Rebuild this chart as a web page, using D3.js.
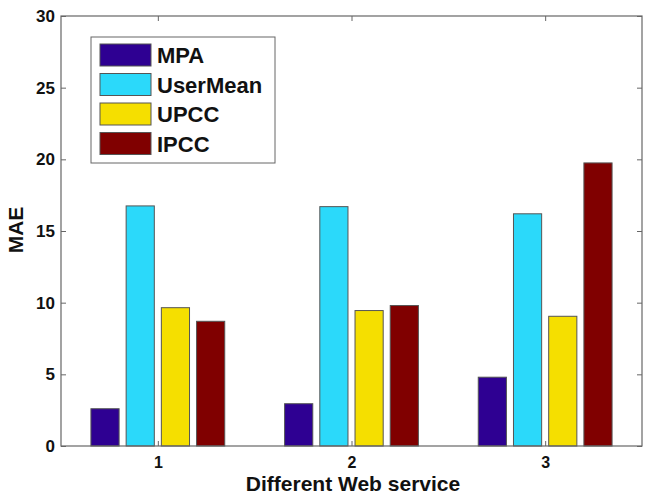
<!DOCTYPE html>
<html>
<head>
<meta charset="utf-8">
<script src="https://cdn.jsdelivr.net/npm/d3@7"></script>
<style>
  body { margin: 0; background: #fff; }
  svg { font-family: Arial, "Liberation Sans", sans-serif; font-weight: bold; }
</style>
</head>
<body>
<div id="chart"></div>
<script>
// data
const services = [1, 2, 3];
const methods = ["MPA", "UserMean", "UPCC", "IPCC"];
const colors = ["#2e0092", "#2bd9fa", "#f5df00", "#800000"];
const mpa = [2.6, 2.95, 4.8];
const userMean = [16.75, 16.7, 16.2];
const upcc = [9.65, 9.45, 9.05];
const ipcc = [8.7, 9.8, 19.75];
const yTicks = [0, 5, 10, 15, 20, 25, 30];

const series = [mpa, userMean, upcc, ipcc];

const width = 645, height = 496;
const margin = { top: 16, right: 3, bottom: 50, left: 61 };
const w = width - margin.left - margin.right;
const h = height - margin.top - margin.bottom;

const svg = d3.select("#chart")
    .append("svg")
    .attr("width", width)
    .attr("height", height);

const g = svg.append("g")
    .attr("transform", `translate(${margin.left},${margin.top})`);

const x = d3.scaleLinear().domain([0.5, 3.5]).range([0, w]);
const y = d3.scaleLinear().domain([0, 30]).range([h, 0]);

// matlab grouped bar layout
const groupWidth = Math.min(0.8, methods.length / (methods.length + 1.5));
const slot = groupWidth / methods.length;
const barW = slot * 0.8;

const axisColor = "#666";

// bars
methods.forEach((m, i) => {
    g.selectAll(".bar-" + i)
        .data(series[i])
        .enter().append("rect")
        .attr("class", "bar-" + i)
        .attr("x", (d, j) => x(services[j] - groupWidth / 2 + slot * i + (slot - barW) / 2))
        .attr("y", d => y(d))
        .attr("width", x(barW) - x(0))
        .attr("height", d => y(0) - y(d))
        .attr("fill", colors[i])
        .attr("stroke", "#555")
        .attr("stroke-width", 1);
});

// axes, ticks pointing inwards on all sides
const tickLen = 5;
g.append("g")
    .attr("class", "x-axis")
    .attr("transform", `translate(0,${h})`)
    .call(d3.axisBottom(x).tickValues(services).tickSize(-tickLen).tickPadding(11).tickFormat(d3.format("d")))
    .call(a => a.select(".domain").remove());
g.append("g")
    .call(d3.axisTop(x).tickValues(services).tickSize(-tickLen).tickFormat(""))
    .call(a => a.select(".domain").remove());
g.append("g")
    .call(d3.axisLeft(y).tickValues(yTicks).tickSize(-tickLen).tickPadding(6))
    .call(a => a.select(".domain").remove());
g.append("g")
    .attr("transform", `translate(${w},0)`)
    .call(d3.axisRight(y).tickValues(yTicks).tickSize(-tickLen).tickFormat(""))
    .call(a => a.select(".domain").remove());

g.selectAll(".tick line").attr("stroke", axisColor);
g.selectAll(".tick text")
    .attr("font-size", 17)
    .attr("font-weight", "bold")
    .attr("font-family", "Arial, 'Liberation Sans', sans-serif")
    .attr("fill", "#111");
g.selectAll(".x-axis .tick text").attr("font-size", 16);

g.append("rect")
    .attr("width", w)
    .attr("height", h)
    .attr("fill", "none")
    .attr("stroke", axisColor)
    .attr("stroke-width", 1.2);

// axis titles
svg.append("text")
    .attr("x", 353)
    .attr("y", 491)
    .attr("text-anchor", "middle")
    .attr("font-size", 21)
    .attr("fill", "#111")
    .text("Different Web service");

svg.append("text")
    .attr("transform", `translate(23,230) rotate(-90)`)
    .attr("text-anchor", "middle")
    .attr("font-size", 21)
    .attr("fill", "#111")
    .text("MAE");

// legend
const legend = svg.append("g").attr("transform", "translate(91,37)");
legend.append("rect")
    .attr("width", 184)
    .attr("height", 126)
    .attr("fill", "#fff")
    .attr("stroke", axisColor)
    .attr("stroke-width", 1);

methods.forEach((m, i) => {
    const row = legend.append("g").attr("transform", `translate(0,${7 + i * 29.5})`);
    row.append("rect")
        .attr("x", 9)
        .attr("width", 51)
        .attr("height", 22)
        .attr("fill", colors[i])
        .attr("stroke", "#555");
    row.append("text")
        .attr("x", 66)
        .attr("y", 19)
        .attr("font-size", 22)
        .attr("fill", "#111")
        .text(m);
});
</script>
</body>
</html>
